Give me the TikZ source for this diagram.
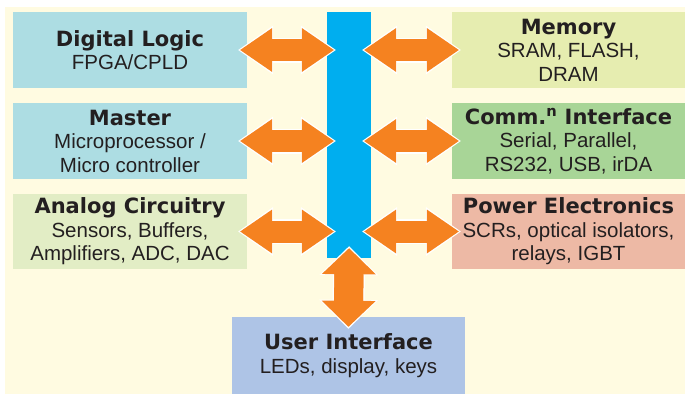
\documentclass[tikz,border=0pt]{standalone}
\usepackage{fontspec}
\setmainfont{Liberation Sans}
\newfontfamily\headfont{DejaVu Sans}
\usetikzlibrary{arrows.meta, positioning, calc}
\definecolor{creambg}{RGB}{255,251,225}
\definecolor{boxcyan}{RGB}{173,221,227}
\definecolor{boxlime}{RGB}{226,237,197}
\definecolor{boxyellow}{RGB}{230,237,176}
\definecolor{boxgreen}{RGB}{168,213,151}
\definecolor{boxsalmon}{RGB}{237,185,165}
\definecolor{boxblue}{RGB}{174,196,230}
\definecolor{busblue}{RGB}{0,174,239}
\definecolor{arrorange}{RGB}{245,130,32}
\definecolor{txtdark}{RGB}{35,31,32}
\newcommand{\hd}[1]{{\headfont\bfseries\fontsize{21}{23.5}\selectfont #1}}
\tikzset{
  basebox/.style={rectangle,inner sep=0pt,align=center,text=txtdark,font=\fontsize{20.5}{23.5}\selectfont,minimum width=234pt,minimum height=76pt},
  logicbox/.style={basebox,fill=boxcyan},
  analogbox/.style={basebox,fill=boxlime},
  membox/.style={basebox,fill=boxyellow,minimum width=233pt},
  commbox/.style={basebox,fill=boxgreen,minimum width=233pt},
  powerbox/.style={basebox,fill=boxsalmon,minimum width=233pt},
  userbox/.style={basebox,fill=boxblue,minimum width=233pt,minimum height=77pt},
  busbar/.style={rectangle,inner sep=0pt,fill=busblue,minimum width=44pt,minimum height=246pt},
  harr/.style={draw=arrorange,line width=22pt,
    {Triangle[length=32pt,width=44pt,line width=0pt]}-{Triangle[length=32pt,width=44pt,line width=0pt]},
    shorten <=-7pt,shorten >=-7pt,
    preaction={draw=white,line width=25pt,
      {Triangle[length=35pt,width=49pt,line width=0pt]}-{Triangle[length=35pt,width=49pt,line width=0pt]},
      shorten <=-9pt,shorten >=-9pt},
    postaction={draw=arrorange,line width=22pt,arrows=-,shorten <=10pt,shorten >=10pt}},
  varr/.style={draw=arrorange,line width=29pt,
    {Triangle[length=26pt,width=54pt,line width=0pt]}-{Triangle[length=26pt,width=54pt,line width=0pt]},
    shorten <=-10pt,shorten >=-10pt,
    preaction={draw=white,line width=32pt,
      {Triangle[length=29pt,width=59pt,line width=0pt]}-{Triangle[length=29pt,width=59pt,line width=0pt]},
      shorten <=-12pt,shorten >=-12pt},
    postaction={draw=arrorange,line width=29pt,arrows=-,shorten <=6pt,shorten >=6pt}}
}

\begin{document}
\begin{tikzpicture}[x=1pt,y=-1pt]
  \useasboundingbox (0,0) rectangle (685,394);
  \fill[creambg] (5,7) rectangle (685,394);
  % left column
  \node[logicbox] (dl) at (130,50) {\hd{Digital Logic}\\FPGA/CPLD};
  \node[logicbox] (mst) at (130,141) {\hd{Master}\\Microprocessor /\\Micro controller};
  \node[analogbox,minimum height=75pt] (ana) at (130,231.5) {\hd{Analog Circuitry}\\Sensors, Buffers,\\Amplifiers, ADC, DAC};
  % right column
  \node[membox] (mem) at (568.5,50) {\hd{Memory}\\SRAM, FLASH,\\DRAM};
  \node[commbox] (comm) at (568.5,141) {\hd{Comm.\textsuperscript{n} Interface}\\Serial, Parallel,\\RS232, USB, irDA};
  \node[powerbox,minimum height=75pt] (pwr) at (568.5,231.5) {\hd{Power Electronics}\\SCRs, optical isolators,\\relays, IGBT};
  % bus and user interface
  \node[busbar] (bus) at (349,135) {};
  \node[userbox] (ui) at (348.5,355.5) {\hd{User Interface}\\LEDs, display, keys};
  \foreach \n in {dl,mst,ana}
    \draw[harr] (\n.east) -- (bus.west |- \n.east);
  \foreach \n in {mem,comm,pwr}
    \draw[harr] (bus.east |- \n.west) -- (\n.west);
  \draw[varr] (bus.south) -- (ui.north);
\end{tikzpicture}
\end{document}
